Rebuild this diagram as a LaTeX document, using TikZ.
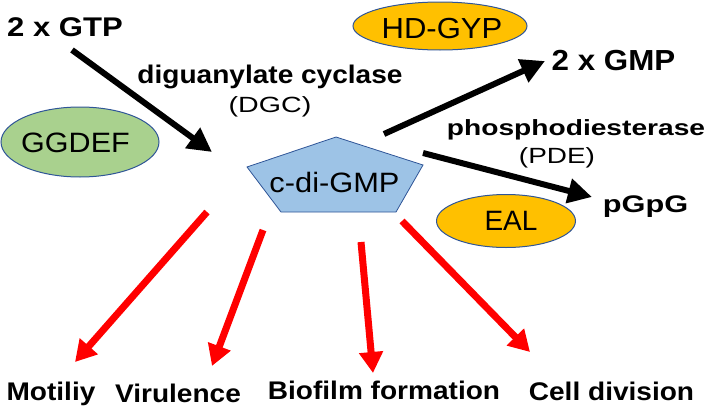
\documentclass[tikz,border=0pt]{standalone}
\usepackage{fontspec}
\setmainfont{Liberation Sans}
\usetikzlibrary{arrows.meta,shapes.geometric}
\definecolor{gfill}{HTML}{A9D18E}
\definecolor{ofill}{HTML}{FFC000}
\definecolor{bfill}{HTML}{9DC3E6}
\definecolor{edgeblue}{HTML}{2F5597}
\definecolor{redarrow}{HTML}{FF0000}
\newcommand\fsz[2]{\fontsize{#1}{#1}\selectfont\addfontfeature{FakeStretch=#2}}
\tikzset{
  lbl/.style={inner sep=0pt, anchor=base},
  blackarrow/.style={line width=6pt, -{Triangle[length=24pt,width=24pt]}},
  redarr/.style={draw=redarrow, line width=7pt, -{Triangle[length=21pt,width=23pt]}},
  enzyme/.style={ellipse, draw=edgeblue, line width=1pt, inner sep=0pt},
}
\begin{document}
\begin{tikzpicture}[x=1pt,y=-1pt]
\useasboundingbox (0,0) rectangle (709,415);
% enzymes
\node[enzyme, fill=gfill, minimum width=158pt, minimum height=70pt] (ggdefE) at (80,142) {};
\node[enzyme, fill=ofill, minimum width=174pt, minimum height=48pt] (hdgypE) at (440,26) {};
\node[enzyme, fill=ofill, minimum width=139pt, minimum height=53pt] (ealE) at (506,221) {};
\node[lbl] (ggdef) at (75.5,152) {\fsz{28}{1.09}GGDEF};
\node[lbl] (hdgyp) at (442,38) {\fsz{29}{1.07}HD-GYP};
\node[lbl] (eal) at (511,230) {\fsz{28}{1.0}EAL};
% pentagon
\coordinate (p1) at (336,137);
\coordinate (p2) at (423,165);
\coordinate (p3) at (396,212);
\coordinate (p4) at (281,212);
\coordinate (p5) at (247,167);
\draw[fill=bfill, draw=edgeblue, line width=0.8pt] (p1) -- (p2) -- (p3) -- (p4) -- (p5) -- cycle;
\node[lbl] (cdg) at (334.5,192) {\fsz{28}{1.1}c-di-GMP};
% texts
\node[lbl] (gtp) at (65,36) {\fsz{27}{1.15}\bfseries 2 x GTP};
\node[lbl] (dgc1) at (270,83) {\fsz{25.5}{1.1}\bfseries diguanylate cyclase};
\node[lbl] (dgc2) at (270,112) {\fsz{22}{1.3}(DGC)};
\node[lbl] (gmp) at (613.5,70) {\fsz{29}{1.08}\bfseries 2 x GMP};
\node[lbl] (pde1) at (576,135) {\fsz{22}{1.28}\bfseries phosphodiesterase};
\node[lbl] (pde2) at (557,163) {\fsz{22}{1.27}(PDE)};
\node[lbl] (pgpg) at (645.5,212) {\fsz{24}{1.28}\bfseries pGpG};
\node[lbl] (mot) at (51,400) {\fsz{25.5}{1.1}\bfseries Motiliy};
\node[lbl] (vir) at (178,402) {\fsz{25.5}{1.1}\bfseries Virulence};
\node[lbl] (bio) at (384,399) {\fsz{25.5}{1.1}\bfseries Biofilm formation};
\node[lbl] (cell) at (611.5,400) {\fsz{25.5}{1.1}\bfseries Cell division};
% arrow ends
\coordinate (a1s) at (72,50);   \coordinate (a1e) at (212,152);
\coordinate (a2s) at (384,134); \coordinate (a2e) at (545,61);
\coordinate (a3s) at (423,153); \coordinate (a3e) at (592,197);
\coordinate (r1s) at (207,212); \coordinate (r1e) at (75,362);
\coordinate (r2s) at (263,230); \coordinate (r2e) at (212,366);
\coordinate (r3s) at (361,242); \coordinate (r3e) at (373,373);
\coordinate (r4s) at (402,221); \coordinate (r4e) at (530,352);
\draw[blackarrow] (a1s) -- (a1e);
\draw[blackarrow] (a2s) -- (a2e);
\draw[blackarrow] (a3s) -- (a3e);
\draw[redarr] (r1s) -- (r1e);
\draw[redarr] (r2s) -- (r2e);
\draw[redarr] (r3s) -- (r3e);
\draw[redarr] (r4s) -- (r4e);
\end{tikzpicture}
\end{document}
